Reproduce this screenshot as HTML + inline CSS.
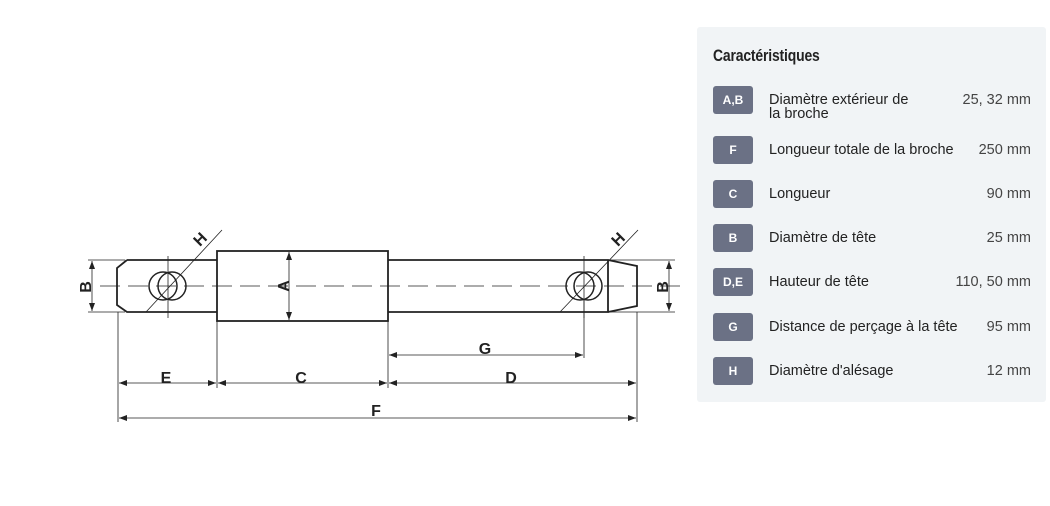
<!DOCTYPE html>
<html><head><meta charset="utf-8"><style>
body{margin:0;width:1050px;height:506px;background:#fff;position:relative;overflow:hidden;font-family:"Liberation Sans",sans-serif}
svg{position:absolute;left:0;top:0}
.panel{position:absolute;left:697px;top:27px;width:349px;height:375px;background:#f1f4f6;border-radius:3px}
.title{position:absolute;left:16px;top:19px;font-size:17px;color:#222;transform:scaleX(0.82);transform-origin:left;font-weight:bold;letter-spacing:-0.2px;white-space:nowrap}
.row{position:absolute;left:16px;width:318px;height:28px}
.badge{position:absolute;left:0;top:0;width:40px;height:28px;background:#6b7185;color:#fff;font-weight:bold;font-size:12px;text-align:center;line-height:28px;border-radius:3px}
.lbl{position:absolute;left:56px;top:7px;font-size:14.5px;color:#222;line-height:14px;width:160px}
.val{position:absolute;right:0;top:7px;font-size:14.5px;color:#444;line-height:14px}
</style></head><body>
<svg width="690" height="506" viewBox="0 0 690 506">
<defs><marker id="a" markerWidth="8" markerHeight="6" refX="8" refY="3" orient="auto-start-reverse" markerUnits="userSpaceOnUse"><path d="M0,0L8,3L0,6z" fill="#222"/></marker></defs>
<g stroke="#222" fill="none" stroke-width="1.8">
<path d="M127,260 L117,268 L117,305 L127,312 L217,312 M127,260 L217,260"/>
<rect x="217" y="251" width="171" height="70"/>
<path d="M388,260 L608,260 L608,312 L388,312 M608,260 L637,266 L637,306 L608,312"/>
<circle cx="163" cy="286" r="14" stroke-width="1.5"/><circle cx="172" cy="286" r="14" stroke-width="1.5"/>
<circle cx="580" cy="286" r="14" stroke-width="1.5"/><circle cx="588" cy="286" r="14" stroke-width="1.5"/>
</g>
<g stroke="#222" stroke-width="0.8" fill="none">
<path d="M100,286 H680" stroke-dasharray="20,8"/>
<path d="M168,256 V318 M584,256 V318" />
<path d="M88,260 H125 M88,312 H125 M607,260 H675 M607,312 H675"/>
<path d="M118,312 V422 M217,321 V388 M388,321 V388 M584,300 V358 M637,312 V422"/>
<path d="M146,312 L222,230 M560,312 L638,230"/>
</g>
<g stroke="#222" stroke-width="0.8" fill="none" marker-start="url(#a)" marker-end="url(#a)">
<line x1="92" y1="261" x2="92" y2="311"/>
<line x1="669" y1="261" x2="669" y2="311"/>
<line x1="289" y1="252" x2="289" y2="320"/>
<line x1="119" y1="383" x2="216" y2="383"/>
<line x1="218" y1="383" x2="387" y2="383"/>
<line x1="389" y1="383" x2="636" y2="383"/>
<line x1="119" y1="418" x2="636" y2="418"/>
<line x1="389" y1="355" x2="583" y2="355"/>
</g>
<g font-family="Liberation Sans" font-weight="bold" font-size="16" fill="#222" text-anchor="middle">
<text x="166" y="383">E</text><text x="301" y="383">C</text><text x="511" y="383">D</text>
<text x="376" y="416">F</text><text x="485" y="354">G</text>
<text transform="translate(91,287) rotate(-90)">B</text>
<text transform="translate(668,287) rotate(-90)">B</text>
<text transform="translate(289,286) rotate(-90)">A</text>
<text transform="translate(204,243) rotate(-45)">H</text>
<text transform="translate(622,243) rotate(-45)">H</text>
</g>
</svg>
<div class="panel">
<div class="title">Caractéristiques</div>
<div class="row" style="top:59px"><div class="badge">A,B</div><div class="lbl" style="width:150px">Diamètre extérieur de la broche</div><div class="val">25, 32 mm</div></div>
<div class="row" style="top:109px"><div class="badge">F</div><div class="lbl" style="width:210px">Longueur totale de la broche</div><div class="val">250 mm</div></div>
<div class="row" style="top:153px"><div class="badge">C</div><div class="lbl">Longueur</div><div class="val">90 mm</div></div>
<div class="row" style="top:197px"><div class="badge">B</div><div class="lbl">Diamètre de tête</div><div class="val">25 mm</div></div>
<div class="row" style="top:241px"><div class="badge">D,E</div><div class="lbl">Hauteur de tête</div><div class="val">110, 50 mm</div></div>
<div class="row" style="top:286px"><div class="badge">G</div><div class="lbl" style="width:210px">Distance de perçage à la tête</div><div class="val">95 mm</div></div>
<div class="row" style="top:330px"><div class="badge">H</div><div class="lbl">Diamètre d'alésage</div><div class="val">12 mm</div></div>
</div>
</body></html>
